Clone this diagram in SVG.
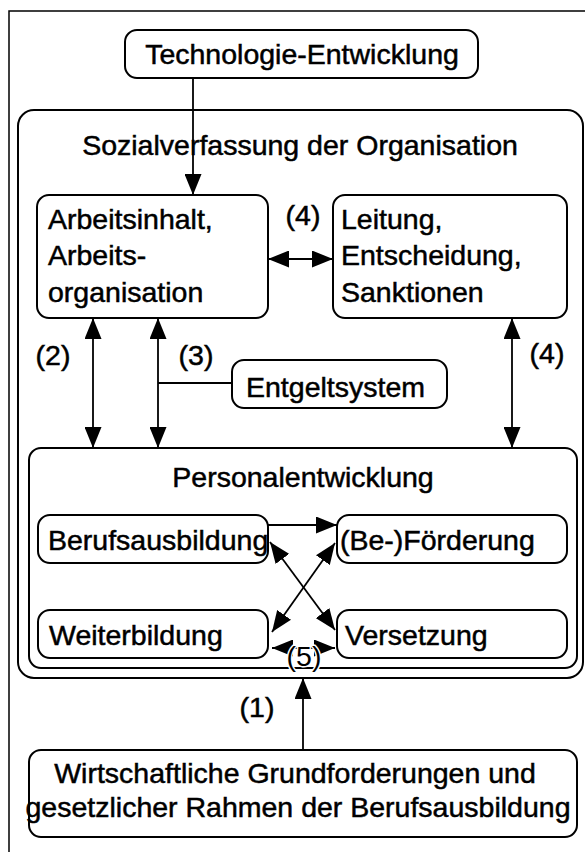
<svg xmlns="http://www.w3.org/2000/svg" width="585" height="852" viewBox="0 0 585 852">
<style>
.box{fill:none;stroke:#000;stroke-width:2}
.frame{fill:none;stroke:#000;stroke-width:1.5}
.t{font-family:"Liberation Sans",Arial,Helvetica,sans-serif;font-size:28.5px;fill:#000;stroke:#000;stroke-width:0.5px}
.m{text-anchor:middle}
.c{stroke:#000;stroke-width:1.8;fill:none}
.lbl{paint-order:stroke;stroke:#fff;stroke-width:3px}
</style>
<defs>
<marker id="ah" markerUnits="userSpaceOnUse" markerWidth="21" markerHeight="17" refX="21" refY="8.5" orient="auto-start-reverse" viewBox="0 0 21 17">
<path d="M0,0 L21,8.5 L0,17 Z" fill="#000"/>
</marker>
</defs>
<rect width="585" height="852" fill="#fff"/>
<path class="frame" d="M9,852 V11 H585"/>
<g id="sozial">
<rect class="box" x="18" y="110" width="565" height="568" rx="16"/>
<text class="t m" x="300" y="155">Sozialverfassung der Organisation</text>
</g>
<g id="technologie">
<rect class="box" x="125" y="30" width="353" height="48" rx="12"/>
<text class="t m" x="302" y="64">Technologie-Entwicklung</text>
</g>
<g id="arbeitsinhalt">
<rect class="box" x="37" y="195" width="231" height="123" rx="12"/>
<text class="t" x="48" y="229">Arbeitsinhalt,</text>
<text class="t" x="48" y="265">Arbeits-</text>
<text class="t" x="48" y="302">organisation</text>
</g>
<g id="leitung">
<rect class="box" x="333" y="195" width="234" height="123" rx="12"/>
<text class="t" x="341" y="229">Leitung,</text>
<text class="t" x="341" y="265">Entscheidung,</text>
<text class="t" x="341" y="302">Sanktionen</text>
</g>
<g id="entgelt">
<rect class="box" x="232" y="360" width="215" height="48" rx="12"/>
<text class="t" x="246" y="397">Entgeltsystem</text>
</g>
<g id="personal">
<rect class="box" x="29" y="448" width="548" height="220" rx="12"/>
<text class="t m" x="303" y="487">Personalentwicklung</text>
</g>
<g id="berufsausbildung">
<rect class="box" x="38" y="515" width="230" height="48" rx="12"/>
<text class="t" x="48" y="550">Berufsausbildung</text>
</g>
<g id="foerderung">
<rect class="box" x="337" y="515" width="230" height="48" rx="12"/>
<text class="t" x="340" y="550">(Be-)Förderung</text>
</g>
<g id="weiterbildung">
<rect class="box" x="38" y="610" width="230" height="48" rx="12"/>
<text class="t" x="49" y="645">Weiterbildung</text>
</g>
<g id="versetzung">
<rect class="box" x="337" y="610" width="230" height="48" rx="12"/>
<text class="t" x="345" y="645">Versetzung</text>
</g>
<g id="wirtschaft">
<rect class="box" x="29" y="750" width="548" height="87" rx="12"/>
<text class="t m" x="295" y="783">Wirtschaftliche Grundforderungen und</text>
<text class="t m" x="298" y="817">gesetzlicher Rahmen der Berufsausbildung</text>
</g>
<g id="connectors">
<line class="c" x1="193" y1="78" x2="193" y2="195" marker-end="url(#ah)"/>
<line class="c" x1="268" y1="259" x2="333" y2="259" marker-start="url(#ah)" marker-end="url(#ah)"/>
<line class="c" x1="93" y1="318" x2="93" y2="448" marker-start="url(#ah)" marker-end="url(#ah)"/>
<line class="c" x1="158" y1="318" x2="158" y2="448" marker-start="url(#ah)" marker-end="url(#ah)"/>
<line class="c" x1="158" y1="383" x2="232" y2="383"/>
<line class="c" x1="512" y1="318" x2="512" y2="448" marker-start="url(#ah)" marker-end="url(#ah)"/>
<line class="c" x1="268" y1="525" x2="337" y2="525" marker-end="url(#ah)"/>
<line class="c" x1="270" y1="542" x2="335" y2="630" marker-start="url(#ah)" marker-end="url(#ah)"/>
<line class="c" x1="272" y1="632" x2="335" y2="543" marker-start="url(#ah)" marker-end="url(#ah)"/>
<line class="c" x1="272" y1="648" x2="335" y2="648" marker-start="url(#ah)" marker-end="url(#ah)"/>
<line class="c" x1="303" y1="750" x2="303" y2="678" marker-end="url(#ah)"/>
<text class="t m" x="303" y="225">(4)</text>
<text class="t m" x="53" y="365">(2)</text>
<text class="t m" x="196" y="365">(3)</text>
<text class="t m" x="547" y="363">(4)</text>
<text class="t m lbl" x="304" y="666">(5)</text>
<text class="t m" x="257" y="717">(1)</text>
</g>
</svg>
